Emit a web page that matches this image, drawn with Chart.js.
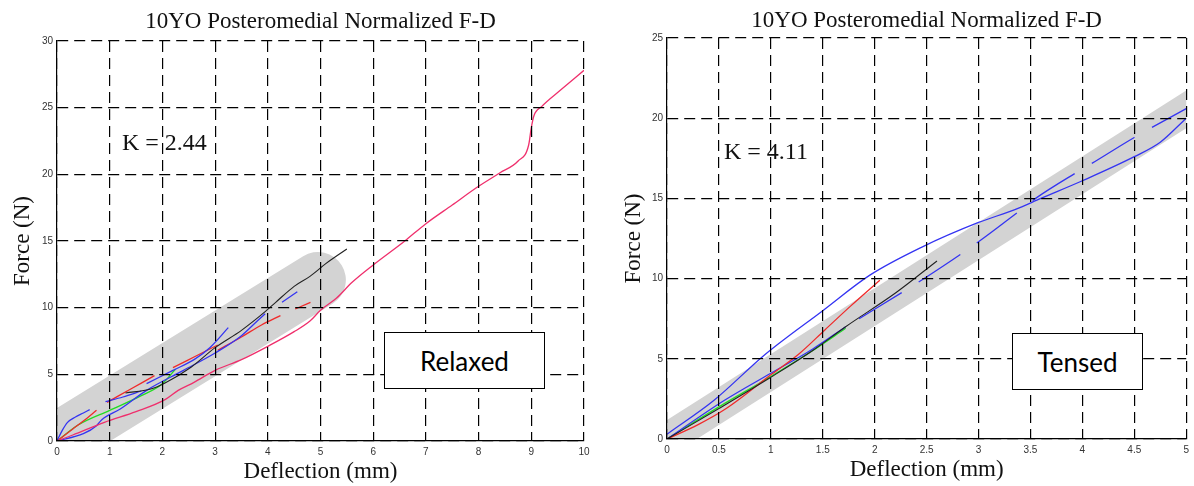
<!DOCTYPE html>
<html>
<head>
<meta charset="utf-8">
<title>10YO Posteromedial Normalized F-D</title>
<script src="https://cdn.jsdelivr.net/npm/chart.js@4/dist/chart.umd.min.js"></script>
<style>
  body { margin: 0; background: #fff; }
  #page { position: relative; width: 1194px; height: 486px; overflow: hidden; background: #fff; }
  canvas { position: absolute; top: 0; }
  #relaxedCanvas { left: 0; }
  #tensedCanvas { left: 600px; }
  .k-label { position: absolute; font: 24px "Liberation Serif", serif; line-height: 24px; color: #111; white-space: nowrap; z-index: 2; }
  .tag { position: absolute; box-sizing: border-box; height: 57px; border: 1.5px solid #000; background: #fff;
         font: 26px Lato, sans-serif; color: #000; display: flex; align-items: center; justify-content: center; z-index: 2; }
</style>
</head>
<body>
<div id="page">
  <canvas id="relaxedCanvas" width="600" height="486"></canvas>
  <canvas id="tensedCanvas" width="594" height="486"></canvas>
  <div class="k-label" id="relaxedK" style="left:122px; top:130px;"></div>
  <div class="k-label" id="tensedK" style="left:724px; top:139px;"></div>
  <div class="tag" style="left:384px; top:332px; width:161px;">Relaxed</div>
  <div class="tag" style="left:1012px; top:333px; width:131px;">Tensed</div>
</div>
<script>
// --- relaxed trials (deflection mm, force N) ---
const relaxedK = 2.44;
const relaxedBandX = [0, 4.95];
const relaxedXTicks = [0, 1, 2, 3, 4, 5, 6, 7, 8, 9, 10];
const relaxedYTicks = [0, 5, 10, 15, 20, 25, 30];

const relaxedPink = [[0,0],[0.3,0.45],[0.9,1.4],[1.5,2.2],[2.05,3.1],[2.3,3.8],[2.6,4.4],[3.0,5.3],[3.5,6.1],
  [4.0,7.1],[4.5,8.2],[4.8,9.0],[5.0,9.8],[5.3,10.7],[5.6,11.9],[6.0,13.2],[6.6,15.0],[7.0,16.3],[7.5,17.7],
  [8.0,19.1],[8.4,20.1],[8.75,21.0],[8.95,22.2],[9.0,23.5],[9.05,24.4],[9.2,25.1],[9.55,26.3],[10,27.8]];
const relaxedBlack = [[1.3,3.6],[1.78,3.9],[2.05,4.35],[2.55,5.55],[3.0,7.0],[3.5,8.3],[3.95,9.7],[4.15,10.4],
  [4.5,11.6],[4.8,12.35],[5.1,13.3],[5.5,14.4]];
const relaxedGreen = [[0,0],[0.4,1.2],[1.0,2.3],[1.6,3.4],[2.0,4.3],[2.25,5.4]];
const relaxedBlueRuns = [
  [[0,0],[0.1,0.8],[0.2,1.4],[0.35,1.8],[0.5,2.1],[0.62,2.35]],
  [[0,0],[0.5,0.55],[0.75,1.15],[0.85,1.6],[1.2,2.4],[1.7,3.8],[2.4,5.3],[3.0,6.6],[3.5,7.9],[3.8,9.0],[3.95,9.55]],
  [[1.7,4.3],[2.2,5.3],[2.6,6.1],[2.9,7.0],[3.25,8.5]],
  [[0.92,2.95],[1.25,3.3],[1.6,3.75]],
  [[4.27,10.4],[4.56,11.2]]
];
const relaxedRedRuns = [
  [[0,0],[0.3,0.9],[0.5,1.5],[0.75,2.3]],
  [[0.95,2.9],[1.4,3.9],[1.85,4.9]],
  [[2.2,5.5],[2.6,6.3],[3.05,7.2]],
  [[3.05,6.8],[3.5,7.8],[3.88,8.7],[4.24,9.4]],
  [[4.52,9.9],[4.81,10.4]]
];

// --- tensed trials ---
const tensedK = 4.11;
const tensedBandX = [0, 5.4];
const tensedXTicks = [0, 0.5, 1, 1.5, 2, 2.5, 3, 3.5, 4, 4.5, 5];
const tensedYTicks = [0, 5, 10, 15, 20, 25];

const tensedBlueUpper = [[0,0.3],[0.45,2.4],[0.95,5.3],[1.5,8.0],[1.95,10.2],[2.45,11.95],[3.0,13.5],[3.35,14.3],
  [3.6,15.0],[4.0,16.1],[4.5,17.6],[4.75,18.5],[5.0,20.0]];
const tensedBlueDashed = [[1.85,7.5],[2.45,9.9],[3.0,12.3],[3.37,14.1],[3.55,15.0],[3.94,16.6],[4.07,17.1],[4.5,18.8],[5.0,20.6]];
const tensedBlueLower = [[0,0],[0.55,2.4],[1.0,4.1],[1.4,5.6],[1.72,7.0]];
const tensedGreen = [[0,0],[0.5,2.0],[1.0,3.9],[1.4,5.5],[1.72,6.9]];
const tensedRed = [[0,0],[0.3,0.9],[0.57,1.9],[1.0,4.0],[1.27,5.3],[1.52,6.8],[1.77,8.3],[2.05,9.9]];
const tensedBlack = [[0,0],[0.5,1.9],[1.0,3.85],[1.4,5.5],[1.72,7.0],[2.2,9.1],[2.6,11.1]];

const plotTitle = '10YO Posteromedial Normalized F-D';
const serif = '"Liberation Serif", "Times New Roman", serif';

const PINK = '#ef2f6c';
const RED = '#f02a2a';
const BLUE = '#3434f2';
const GREEN = '#22dc22';
const BLACK = '#222222';

document.getElementById('relaxedK').textContent = 'K = ' + relaxedK.toFixed(2);
document.getElementById('tensedK').textContent = 'K = ' + tensedK.toFixed(2);

function trace(points, color, extra) {
  return Object.assign({
    data: points.map(p => ({ x: p[0], y: p[1] })),
    borderColor: color,
    borderWidth: 1.3,
    pointRadius: 0,
    showLine: true,
    fill: false,
    cubicInterpolationMode: 'monotone',
    order: 1
  }, extra || {});
}

// wide grey stiffness band along y = K * x
function band(k, xs, width) {
  return {
    data: xs.map(x => ({ x: x, y: k * x })),
    borderColor: '#d3d3d3',
    borderWidth: width,
    borderCapStyle: 'round',
    pointRadius: 0,
    showLine: true,
    fill: false,
    clip: 0,
    order: 10
  };
}

function axis(ticks, opts) {
  return {
    type: 'linear',
    min: ticks[0],
    max: ticks[ticks.length - 1],
    afterBuildTicks: s => { s.ticks = ticks.map(v => ({ value: v })); },
    afterFit: opts.fit,
    ticks: {
      autoSkip: false, maxRotation: 0, padding: opts.tickPad, color: '#333',
      font: { family: '"Liberation Sans", Arial, sans-serif', size: 10 },
      callback: v => String(v)
    },
    grid: { color: '#000', lineWidth: 1.2, drawTicks: false, z: 1 },
    border: { display: true, color: '#000', width: 1.2, dash: [11, 6], z: 2 },
    title: {
      display: true, text: opts.title, color: '#111',
      font: { family: serif, size: 23, weight: 'normal' },
      padding: opts.titlePad
    }
  };
}

function makePlot(id, cfg) {
  return new Chart(document.getElementById(id), {
    type: 'scatter',
    data: { datasets: cfg.datasets },
    options: {
      responsive: false,
      animation: false,
      events: [],
      layout: { padding: { left: 0, right: cfg.padRight, top: 0, bottom: 0 } },
      plugins: {
        legend: { display: false },
        tooltip: { enabled: false },
        title: {
          display: true, text: plotTitle, color: '#111', fullSize: false,
          font: { family: serif, size: 23, weight: 'normal' },
          padding: cfg.titlePad
        }
      },
      scales: {
        x: axis(cfg.xTicks, { fit: s => { s.height = cfg.xHeight; }, tickPad: 5,
                              title: 'Deflection (mm)', titlePad: { top: 0, bottom: cfg.xTitleBottom } }),
        y: axis(cfg.yTicks, { fit: s => { s.width = cfg.yWidth; }, tickPad: 4,
                              title: 'Force (N)', titlePad: { top: cfg.yTitleTop, bottom: 0 } })
      }
    }
  });
}

makePlot('relaxedCanvas', {
  datasets: [
    trace(relaxedPink, PINK),
    trace(relaxedBlack, BLACK, { borderWidth: 1.1 }),
    ...relaxedBlueRuns.map(r => trace(r, BLUE)),
    ...relaxedRedRuns.map(r => trace(r, RED)),
    trace(relaxedGreen, GREEN),
    band(relaxedK, relaxedBandX, 56)
  ],
  xTicks: relaxedXTicks, yTicks: relaxedYTicks,
  padRight: 16, xHeight: 45, yWidth: 57,
  titlePad: { top: 8, bottom: 5.4 }, xTitleBottom: 0, yTitleTop: 9
});

makePlot('tensedCanvas', {
  datasets: [
    trace(tensedBlueUpper, BLUE),
    trace(tensedBlueDashed, BLUE, { borderDash: [50, 20] }),
    trace(tensedBlack, BLACK, { borderWidth: 1.1 }),
    trace(tensedRed, RED),
    trace(tensedBlueLower, BLUE),
    trace(tensedGreen, GREEN),
    band(tensedK, tensedBandX, 32)
  ],
  xTicks: tensedXTicks, yTicks: tensedYTicks,
  padRight: 3, xHeight: 47, yWidth: 67,
  titlePad: { top: 7, bottom: 3.4 }, xTitleBottom: 2, yTitleTop: 20
});
</script>
</body>
</html>
